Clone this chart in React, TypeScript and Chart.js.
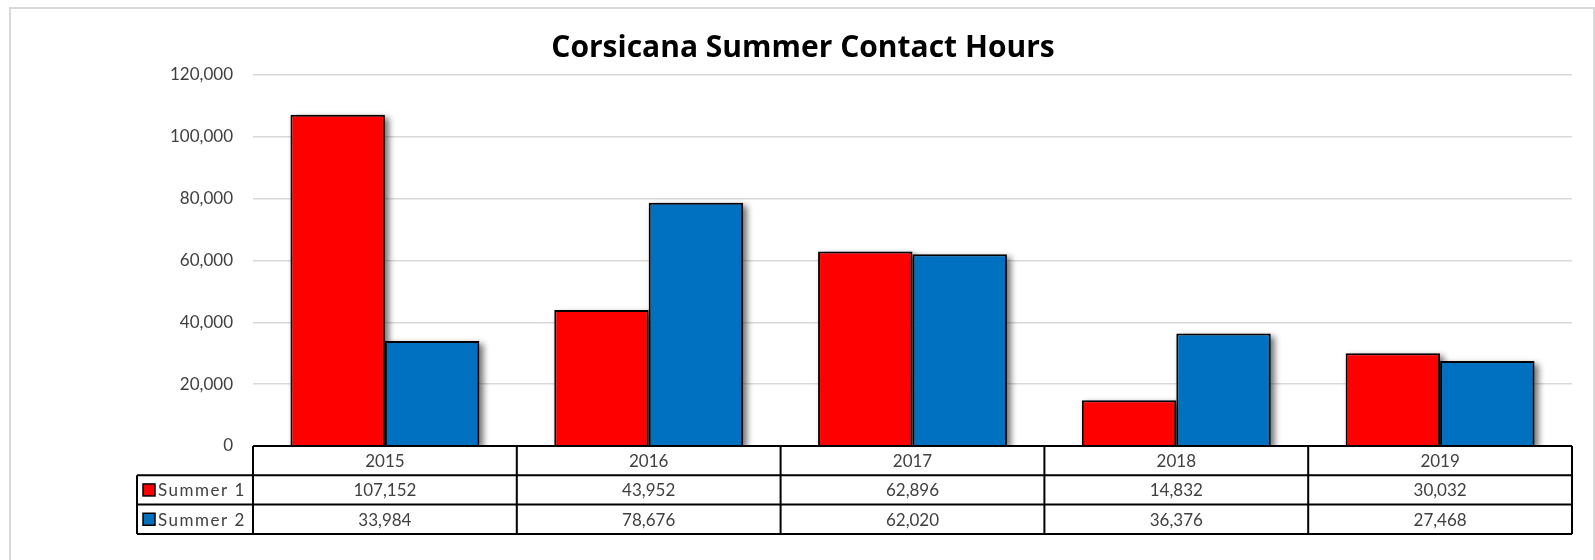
import React, { useEffect, useRef } from "react";
import { Chart, registerables } from "chart.js";

Chart.register(...registerables);

const title = "Corsicana Summer Contact Hours";
const categories = ["2015", "2016", "2017", "2018", "2019"];
const seriesNames = ["Summer 1", "Summer 2"];
const summer1 = [107152, 43952, 62896, 14832, 30032];
const summer2 = [33984, 78676, 62020, 36376, 27468];
const seriesColors = ["#ff0000", "#0070c0"];
const yTicksMax = 120000;
const yStep = 20000;

const FONT = "Lato, 'Open Sans', sans-serif";
const TITLE_FONT = "'Open Sans', Lato, sans-serif";
const fmt = (v: number) => v.toLocaleString("en-US");

const framePlugin = {
  id: "frame",
  beforeDraw(chart: any) {
    const ctx = chart.ctx;
    ctx.save();
    ctx.fillStyle = "#ffffff";
    ctx.fillRect(0, 0, chart.width, chart.height);
    ctx.strokeStyle = "#d9d9d9";
    ctx.lineWidth = 2;
    ctx.strokeRect(10, 8, 1584, 600);
    ctx.restore();
  },
};

const shadowPlugin = {
  id: "barShadow",
  beforeDatasetsDraw(chart: any) {
    const ctx = chart.ctx;
    const area = chart.chartArea;
    ctx.save();
    ctx.beginPath();
    ctx.rect(area.left, area.top - 20, area.right - area.left + 20, area.bottom - area.top + 20);
    ctx.clip();
    ctx.fillStyle = "rgba(0,0,0,0.55)";
    ctx.filter = "blur(3px)";
    chart.data.datasets.forEach((_: any, di: number) => {
      const meta = chart.getDatasetMeta(di);
      meta.data.forEach((bar: any) => {
        const w = bar.width;
        const x0 = bar.x - w / 2;
        const y0 = Math.min(bar.y, bar.base);
        const h = Math.abs(bar.base - bar.y);
        ctx.fillRect(x0 + 4, y0 + 3, w, h);
      });
    });
    ctx.restore();
  },
};

const tablePlugin = {
  id: "dataTable",
  afterDraw(chart: any) {
    const ctx = chart.ctx;
    const area = chart.chartArea;
    const left = area.left;
    const right = area.right;
    const n = categories.length;
    const colW = (right - left) / n;
    const top = area.bottom;
    const rowH = 29.3;
    const r1 = top + rowH;
    const r2 = r1 + rowH;
    const r3 = r2 + rowH;
    const legLeft = 137;

    // title
    ctx.save();
    ctx.fillStyle = "#000000";
    ctx.font = `bold 30px ${TITLE_FONT}`;
    ctx.textAlign = "center";
    ctx.textBaseline = "alphabetic";
    ctx.fillText(title, 803, 57);
    ctx.restore();

    ctx.save();
    ctx.fillStyle = "#ffffff";
    ctx.fillRect(left, top, right - left, r3 - top);
    ctx.fillRect(legLeft, r1, left - legLeft, r3 - r1);
    ctx.strokeStyle = "#000000";
    ctx.lineWidth = 2;
    ctx.beginPath();
    ctx.moveTo(left, top);
    ctx.lineTo(right, top);
    [r1, r2, r3].forEach((y) => {
      ctx.moveTo(legLeft, y);
      ctx.lineTo(right, y);
    });
    ctx.moveTo(legLeft, r1);
    ctx.lineTo(legLeft, r3);
    for (let i = 0; i <= n; i++) {
      const x = left + i * colW;
      ctx.moveTo(x, top);
      ctx.lineTo(x, r3);
    }
    ctx.stroke();

    ctx.fillStyle = "#404040";
    ctx.font = `17px ${FONT}`;
    ctx.textAlign = "center";
    ctx.textBaseline = "middle";
    const xs = chart.scales.x;
    const rows = [summer1, summer2];
    categories.forEach((c, i) => {
      const cx = xs.getPixelForValue(i);
      ctx.fillText(c, cx, (top + r1) / 2 + 1);
      ctx.fillText(fmt(rows[0][i]), cx, (r1 + r2) / 2 + 1);
      ctx.fillText(fmt(rows[1][i]), cx, (r2 + r3) / 2 + 1);
    });
    // legend keys
    ctx.textAlign = "left";
    (ctx as any).letterSpacing = "1.5px";
    [r1, r2].forEach((y, k) => {
      const cy = y + rowH / 2;
      ctx.fillStyle = seriesColors[k];
      ctx.fillRect(143, cy - 6, 12, 12);
      ctx.strokeStyle = "#000000";
      ctx.lineWidth = 1.5;
      ctx.strokeRect(143, cy - 6, 12, 12);
      ctx.fillStyle = "#404040";
      ctx.fillText(seriesNames[k], 158, cy + 1);
    });
    ctx.restore();
  },
};

export default function App() {
  const ref = useRef<HTMLCanvasElement>(null);
  useEffect(() => {
    if (!ref.current) return;
    const chart = new Chart(ref.current, {
      type: "bar",
      data: {
        labels: categories,
        datasets: [
          {
            label: seriesNames[0],
            data: summer1,
            backgroundColor: seriesColors[0],
            borderColor: "#000000",
            borderWidth: 2,
            categoryPercentage: 0.716,
            barPercentage: 1.0,
          },
          {
            label: seriesNames[1],
            data: summer2,
            backgroundColor: seriesColors[1],
            borderColor: "#000000",
            borderWidth: 2,
            categoryPercentage: 0.716,
            barPercentage: 1.0,
          },
        ],
      },
      options: {
        animation: false,
        responsive: false,
        maintainAspectRatio: false,
        layout: { padding: { top: 75, bottom: 114, left: 0, right: 23 } },
        plugins: {
          legend: { display: false },
          title: { display: false },
          tooltip: { enabled: false },
        },
        scales: {
          x: { display: false },
          y: {
            min: 0,
            max: yTicksMax,
            afterFit(scale: any) {
              scale.width = 253;
            },
            ticks: {
              stepSize: yStep,
              padding: 20,
              color: "#404040",
              font: { family: FONT, size: 17 },
              callback: (v: any) => fmt(Number(v)),
            },
            grid: { color: "#d9d9d9", lineWidth: 1.5, drawTicks: false },
            border: { display: false },
          },
        },
      },
      plugins: [framePlugin, shadowPlugin, tablePlugin],
    });
    return () => chart.destroy();
  }, []);
  return (
    <div style={{ position: "fixed", left: 0, top: 0, width: 1595, height: 560, background: "#fff" }}>
      <canvas ref={ref} width={1595} height={560} style={{ display: "block", width: 1595, height: 560 }} />
    </div>
  );
}
